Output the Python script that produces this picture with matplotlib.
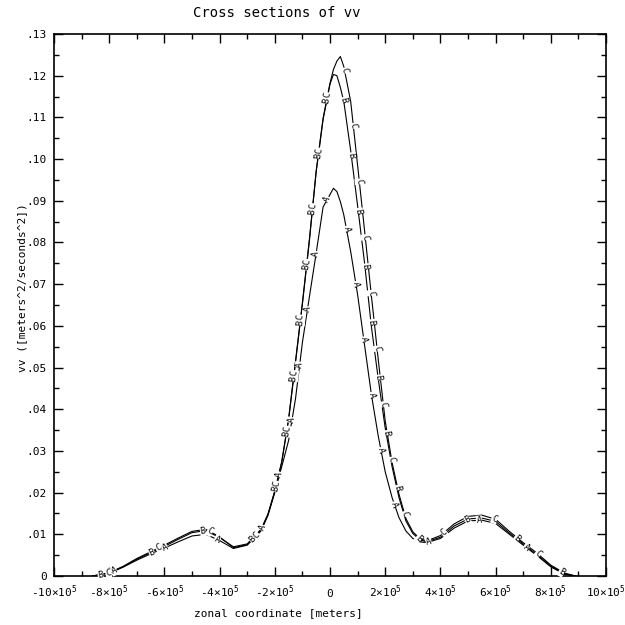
import numpy as np
import matplotlib
matplotlib.use('Agg')
import matplotlib.pyplot as plt
from matplotlib.ticker import MultipleLocator

plt.rcParams['mathtext.fontset'] = 'custom'
plt.rcParams['mathtext.rm'] = 'DejaVu Sans Mono'

# zonal coordinate in units of 1e5 m
x = [-8.6, -8.0, -7.5, -7.0, -6.5, -6.0, -5.5, -5.0, -4.5, -4.0,
     -3.5, -3.0, -2.5, -2.25, -2.0, -1.75, -1.5, -1.25, -1.0, -0.75,
     -0.5, -0.25, 0.0, 0.125, 0.25, 0.375, 0.5, 0.75, 1.0, 1.25,
     1.5, 1.75, 2.0, 2.25, 2.5, 2.75, 3.0, 3.25, 3.5, 4.0,
     4.5, 5.0, 5.5, 6.0, 6.5, 7.0, 7.5, 8.0, 8.5, 8.9]

vv_a = [0.0, 0.0007, 0.0021, 0.0038, 0.0053, 0.0067, 0.0082, 0.0096, 0.0100, 0.0085,
        0.0066, 0.0074, 0.0108, 0.0145, 0.0200, 0.0262, 0.0325, 0.0425, 0.0560, 0.0668,
        0.0775, 0.0885, 0.0915, 0.0930, 0.0922, 0.0898, 0.0866, 0.0778, 0.0675, 0.0555,
        0.0435, 0.0335, 0.0250, 0.0188, 0.0140, 0.0108, 0.0090, 0.0082, 0.0080, 0.0090,
        0.0115, 0.0132, 0.0134, 0.0126, 0.0100, 0.0074, 0.0049, 0.0022, 0.0004, 0.0]

vv_b = [0.0, 0.0007, 0.0022, 0.0040, 0.0056, 0.0071, 0.0088, 0.0104, 0.0109, 0.0092,
        0.0070, 0.0077, 0.0112, 0.0148, 0.0203, 0.0272, 0.0375, 0.0512, 0.0652, 0.0802,
        0.0970, 0.1095, 0.1180, 0.1203, 0.1200, 0.1172, 0.1138, 0.1020, 0.0888, 0.0752,
        0.0598, 0.0472, 0.0355, 0.0262, 0.0188, 0.0132, 0.0102, 0.0087, 0.0082, 0.0093,
        0.0120, 0.0137, 0.0139, 0.0131, 0.0103, 0.0077, 0.0051, 0.0024, 0.0005, 0.0]

vv_c = [0.0, 0.0008, 0.0023, 0.0042, 0.0058, 0.0074, 0.0091, 0.0107, 0.0112, 0.0094,
        0.0068, 0.0075, 0.0110, 0.0147, 0.0204, 0.0274, 0.0377, 0.0515, 0.0655, 0.0805,
        0.0972, 0.1098, 0.1182, 0.1215, 0.1235, 0.1246, 0.1222, 0.1138, 0.0985, 0.0830,
        0.0672, 0.0518, 0.0372, 0.0272, 0.0196, 0.0138, 0.0106, 0.0090, 0.0084, 0.0097,
        0.0125, 0.0143, 0.0146, 0.0136, 0.0107, 0.0080, 0.0055, 0.0026, 0.0007, 0.0]

curves = [('A', vv_a, 22), ('B', vv_b, 8), ('C', vv_c, 16)]
mono = 'DejaVu Sans Mono'

fig = plt.figure(figsize=(6.25, 6.25), dpi=100)
ax = fig.add_axes([0.0864, 0.0784, 0.8832, 0.8672])
ax.set_xlim(-10, 10)
ax.set_ylim(0, 0.13)

for name, yy, ph in curves:
    ax.plot(x, yy, color='black', lw=0.8)


def label_line(ax, xs, ys, text, phase, spacing=56):
    # put the curve letter along the line every `spacing` pixels
    pts = ax.transData.transform(np.column_stack([xs, ys]))
    seg = np.hypot(np.diff(pts[:, 0]), np.diff(pts[:, 1]))
    cum = np.concatenate([[0], np.cumsum(seg)])
    inv = ax.transData.inverted()
    s = phase
    while s < cum[-1] - 5:
        i = np.searchsorted(cum, s) - 1
        t = (s - cum[i]) / seg[i]
        d = pts[i + 1] - pts[i]
        p = pts[i] + t * d
        ang = np.degrees(np.arctan2(d[1], d[0]))
        xd, yd = inv.transform(p)
        ax.text(xd, yd, text, rotation=ang, rotation_mode='anchor',
                ha='center', va='center', fontsize=6.5, family=mono,
                bbox=dict(fc='white', ec='none', pad=0.2))
        s += spacing


for name, yy, ph in curves:
    label_line(ax, x, yy, name, ph)

xticks = list(range(-10, 11, 2))
ax.set_xticks(xticks)
ax.set_xticklabels(['0' if v == 0 else f'{v}\u00d710' + r'$^{\mathrm{5}}$' for v in xticks],
                   family=mono, fontsize=8)
for lab in ax.get_xticklabels():
    lab.set_verticalalignment('baseline')
ax.xaxis.set_minor_locator(MultipleLocator(1))

yticks = [i / 100 for i in range(0, 14)]
ax.set_yticks(yticks)
ax.set_yticklabels(['0' if i == 0 else f'.{i:02d}' for i in range(0, 14)],
                   family=mono, fontsize=8)
ax.yaxis.set_minor_locator(MultipleLocator(0.005))

ax.tick_params(which='both', direction='in', top=True, right=True, width=1.0)
ax.tick_params(which='major', length=6.5)
ax.tick_params(which='minor', length=3.5)
ax.tick_params(axis='x', which='major', pad=15)
ax.tick_params(axis='y', which='major', pad=5)
for sp in ax.spines.values():
    sp.set_linewidth(1.2)

fig.text(0.443, 0.979, 'Cross sections of vv', family=mono, fontsize=10,
         ha='center', va='center')
fig.text(0.446, 0.019, 'zonal coordinate [meters]', family=mono, fontsize=8,
         ha='center', va='center')
fig.text(0.035, 0.539, 'vv ([meters^2/seconds^2])', family=mono, fontsize=8,
         ha='center', va='center', rotation=90)

fig.savefig('out.png', dpi=100)
